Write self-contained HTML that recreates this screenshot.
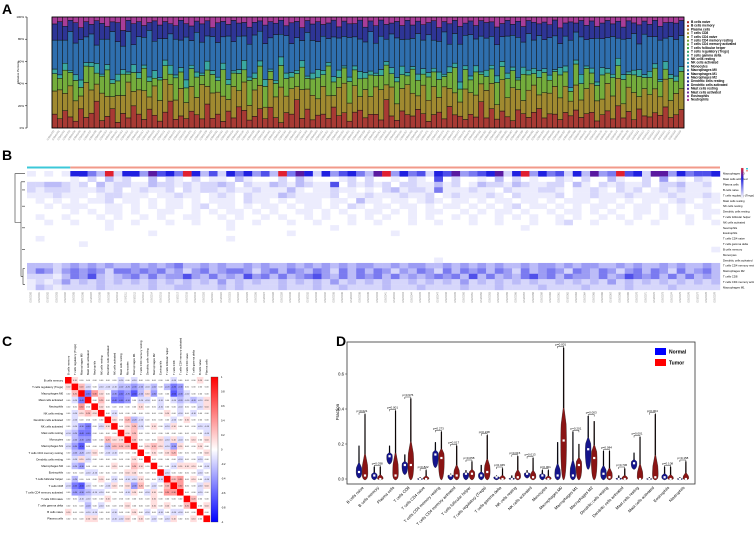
<!DOCTYPE html>
<html><head><meta charset="utf-8"><style>
html,body{margin:0;padding:0;background:#fff;}
svg{display:block;font-family:"Liberation Sans",sans-serif;}
</style></head><body>
<svg id="fig" width="754" height="537" viewBox="0 0 754 537">
<text x="2" y="14" font-size="14" font-weight="bold">A</text>
<text x="2" y="160" font-size="14" font-weight="bold">B</text>
<text x="2" y="346" font-size="14" font-weight="bold">C</text>
<text x="336" y="346" font-size="14" font-weight="bold">D</text>
<g id="pA"></g>
<g id="pB"></g>
<g id="pC"></g>
<g id="pD"></g>
</svg>
<script>
const NS="http://www.w3.org/2000/svg";
function mk(parent,tag,attrs,txt){const e=document.createElementNS(NS,tag);for(const k in attrs)e.setAttribute(k,attrs[k]);if(txt!==undefined)e.textContent=txt;parent.appendChild(e);return e;}
const cellTypes=["B cells naive","B cells memory","Plasma cells","T cells CD8","T cells CD4 naive","T cells CD4 memory resting","T cells CD4 memory activated","T cells follicular helper","T cells regulatory (Tregs)","T cells gamma delta","NK cells resting","NK cells activated","Monocytes","Macrophages M0","Macrophages M1","Macrophages M2","Dendritic cells resting","Dendritic cells activated","Mast cells resting","Mast cells activated","Eosinophils","Neutrophils"];

/* ---------- Panel A data ---------- */
const aRed="12 08 15 10 06 18 09 14 22 07 11 16 05 13 09 20 12 08 17 10 06 14 24 09 11 07 15 13 08 19 10 12 06 16 09 21 13 07 11 15 08 18 10 05 14 12 26 09 16 07 11 13 08 20 10 15 06 12 17 09 14 11 08 23 10 07 16 12 09 18 13 06 11 15 08 19 12 10 07 14 09 22 11 16 08 13 10 06 17 12 09 15 20 08 11 14 07 13 10 18 09 12 16 06 11 15 08 21 10 13 07 17 12 09 14 11 19 08 13 16".split(" ").map(Number);
const aOlive="20 25 15 28 18 12 30 22 14 26 19 10 24 16 32 13 21 27 11 23 18 29 15 20 25 12 22 17 30 14 26 19 23 11 28 16 21 13 25 18 10 24 20 33 15 22 12 27 17 21 14 26 19 11 23 29 16 20 13 25 18 22 30 12 24 15 21 27 17 13 26 19 23 14 28 16 20 12 25 22 18 15 30 21 13 24 17 27 19 11 23 26 14 20 16 28 18 22 12 25 15 21 29 17 13 24 20 26 14 19 23 11 27 18 22 16 25 13 21 18".split(" ").map(Number);
const aGreen="15 10 20 12 18 8 14 22 9 16 25 11 13 19 7 17 10 21 14 6 18 12 9 23 15 11 16 20 8 13 19 10 24 14 12 17 9 22 11 15 18 7 13 20 16 10 12 21 9 14 18 11 25 13 8 15 19 12 17 10 22 9 14 16 11 20 13 8 18 15 10 21 12 17 9 14 23 11 16 13 19 8 15 12 20 10 17 14 9 22 13 11 18 16 10 15 19 12 8 21 14 17 11 13 20 9 16 12 24 10 15 18 11 14 19 13 9 17 12 15".split(" ").map(Number);
const aTeal="4 3 6 2 5 7 3 4 8 2 5 3 6 4 2 7 5 3 4 6 2 5 8 3 4 6 3 5 2 7 4 3 6 5 2 4 7 3 5 4 6 2 3 8 5 4 3 6 2 5 7 4 3 5 6 2 4 3 7 5 4 2 6 3 5 4 8 3 2 6 5 4 3 7 2 5 4 6 3 4 5 2 7 3 6 4 5 3 2 6 4 5 7 3 4 2 6 5 3 4 8 2 5 3 6 4 3 7 5 2 4 6 3 5 4 2 7 3 5 4".split(" ").map(Number);
const aBlue="25 30 20 35 28 38 22 27 15 33 24 40 29 21 36 18 31 26 42 23 34 19 28 37 25 32 22 39 27 20 35 30 24 41 26 33 18 29 36 23 31 27 44 21 34 25 30 19 37 28 24 32 20 38 26 29 35 22 31 27 40 24 33 18 28 36 25 30 21 39 26 34 23 29 37 20 27 32 25 42 22 30 35 24 28 19 33 26 38 21 31 27 36 23 29 34 20 25 39 28 32 22 30 37 24 27 33 19 35 26 31 23 40 28 25 34 21 29 36 27".split(" ").map(Number);
const aNavy="14 16 12 10 18 11 13 9 20 15 12 8 17 14 10 19 13 11 7 16 12 15 9 14 18 10 13 11 16 12 9 17 14 11 19 13 10 15 12 8 16 14 11 13 9 18 15 12 10 14 17 11 13 16 9 15 12 10 18 13 11 14 16 12 9 15 13 17 10 12 14 11 16 13 9 18 12 15 10 14 11 13 17 12 16 10 14 9 15 13 11 17 12 14 10 16 13 11 15 9 14 12 18 10 13 15 11 16 12 14 9 17 13 10 15 12 14 11 16 13".split(" ").map(Number);
const aMagenta="6 4 8 3 5 10 4 7 3 6 9 4 5 12 3 6 4 8 5 3 7 4 6 9 3 5 8 4 6 3 11 5 4 7 3 6 4 9 5 3 7 4 6 3 8 5 4 10 3 6 4 7 5 3 8 4 6 5 3 9 4 7 3 6 5 4 8 3 6 4 7 5 3 10 4 6 3 8 5 4 7 3 6 4 9 5 3 6 4 8 3 5 7 4 6 3 9 5 4 6 3 7 4 8 5 3 6 4 10 3 5 7 4 6 3 8 5 4 6 3".split(" ").map(Number);
const aTicks=["0%","20%","40%","60%","80%","100%"];

/* ---------- Panel B data (rows top->bottom, digit = intensity 0..9) ---------- */
const bRowLabels=["Macrophages M0","Mast cells activated","Plasma cells","B cells naive","T cells regulatory (Tregs)","Mast cells resting","NK cells resting","Dendritic cells resting","T cells follicular helper","NK cells activated","Neutrophils","Eosinophils","T cells CD4 naive","T cells gamma delta","B cells memory","Monocytes","Dendritic cells activated","T cells CD4 memory resting","Macrophages M2","T cells CD8","T cells CD4 memory activated","Macrophages M1"];
const bRows=[
"10101775392774867597362757463958727467538947562768456782794756273845967288475667",
"00000102031200302102011031000203100012020010210602001030201002102003100204010210",
"22332120312211322121223202113213211602121202211312013221321122031021211202231120",
"21222111212012112021221211211131011211010231221511121102111221011210212012121110",
"11121110122111011211012102111321111201121112112012111210211112011211121111211121",
"01010101120110101101011102110101110110311011012101101011011010111011010110121011",
"00101110011010101101201101011010110102101101101011010101201101010110101101010110",
"00000101011010011001010110101001101010011010101100101011010010110101001101010011",
"01001000101001010011001010010100101001010100101001010010101001010010101001001010",
"00100100010010001001000100100010010001001000100100010010001001200100010010001001",
"00000000010000000000000100000000000100000000000000000000010000000000000000000000",
"00000000000000100000000000000010000000000010000000000000000000000000000000000000",
"01000000000000000000000100000000000000000000000000000000000000000000000000000000",
"00000010000000000000000000000000000000000000000000000000000000000000000000000000",
"00000000000000000000000000000000000000000000000000000000000000000000000000000001",
"00000000000000000000000000000000000000000000000000000000000000000000000000000000",
"00000000000000000000000000000000000000000000000100000000000000000000000000000000",
"33323434343343434533434334343343434343443343443343434343343443434433434334343343",
"35424545425545453424534554245354354253535424354253545354253454254354245354253453",
"22213546323453534464353436453534564353545353434545363534356453544353465453535343",
"12124232323232323232324232322323232423232322323232423232323223232324232323232323",
"13212222322222322332223232222322232232222322232222322232222322223222232222322222"];

/* ---------- Panel C data (lower triangle codes: '0'=-0.5 ... '5'=0 ... '9'=0.4) ---------- */
const cLabels=["B cells memory","T cells regulatory (Tregs)","Macrophages M0","Mast cells activated","Neutrophils","NK cells resting","Dendritic cells activated","NK cells activated","Mast cells resting","Monocytes","Macrophages M1","T cells CD4 memory resting","Dendritic cells resting","Macrophages M2","Eosinophils","T cells follicular helper","T cells CD8","T cells CD4 memory activated","T cells CD4 naive","T cells gamma delta","B cells naive","Plasma cells"];
const cLower=["","6","57","541","5585","54676","545555","5421546","43115555","532255766","4205553777","53346544555","546455555565","5325555655765","55544555566555","535556545446554","4104554656275457","52234455546546588","554455655555565555","5553545556555656557","65544554556545454455","555665544656545465565"];
const cTicks=["1","0.8","0.6","0.4","0.2","0","-0.2","-0.4","-0.6","-0.8","-1"];

/* ---------- Panel D data ---------- */
const dNormMed=[0.04,0.02,0.13,0.08,0.00,0.14,0.02,0.03,0.02,0.01,0.00,0.03,0.02,0.02,0.02,0.17,0.03,0.00,0.09,0.00,0.01,0.00];
const dNormLo =[0.01,0.00,0.09,0.03,0.00,0.07,0.00,0.00,0.00,0.00,0.00,0.01,0.00,0.00,0.00,0.06,0.00,0.00,0.06,0.00,0.00,0.00];
const dNormHi =[0.19,0.07,0.19,0.14,0.01,0.21,0.03,0.05,0.08,0.02,0.02,0.05,0.05,0.21,0.27,0.36,0.16,0.02,0.15,0.01,0.07,0.01];
const dTumMed =[0.02,0.00,0.02,0.08,0.00,0.12,0.02,0.03,0.04,0.00,0.01,0.01,0.00,0.22,0.08,0.12,0.01,0.00,0.00,0.01,0.00,0.00];
const dTumHi  =[0.37,0.07,0.39,0.46,0.05,0.27,0.19,0.10,0.25,0.06,0.13,0.12,0.05,0.75,0.20,0.33,0.16,0.06,0.24,0.37,0.07,0.10];
const dP=["p=0.021","p=0.038","p=0.001","p=0.976","p=0.822","p=0.273","p=0.017","p=0.058","p=0.248","p=0.045","p=0.015","p=0.013","p=0.001","p=0.001","p=0.201","p=0.003","p=0.084","p=0.736","p=0.001","p=0.004","p=0.108","p=0.158"];
const dTicks=[0,0.2,0.4,0.6];

/* ================= Panel A ================= */
(function(){
  const g=document.getElementById('pA');
  const L=52,R=684,T=17,B=128;
  const layers=[aRed,aOlive,aGreen,aTeal,aBlue,aNavy,aMagenta];
  const cols=["#a83a34","#a08a30","#74ad3c","#3aa9a0","#2f6fae","#2e3596","#a83d98"];
  const n=Math.min(...layers.map(a=>a.length));
  const bw=(R-L)/n;
  const y=v=>B-(B-T)*v;
  mk(g,'line',{x1:27,y1:T,x2:27,y2:B,stroke:'#000','stroke-width':0.6});
  aTicks.forEach((t,i)=>{const yy=y(i/5);
    mk(g,'line',{x1:25,y1:yy,x2:27,y2:yy,stroke:'#000','stroke-width':0.5});
    const tx=mk(g,'text',{x:24,y:yy+1,'font-size':3,'text-anchor':'end'},t);
    
    
  });
  const yt=mk(g,'text',{x:19,y:(T+B)/2,'font-size':3,'text-anchor':'middle',transform:`rotate(-90 19 ${(T+B)/2})`},'Relative Percent');
  
  
  for(let i=0;i<n;i++){
    let tot=0;layers.forEach(a=>tot+=a[i]);
    let acc=0;const x=L+i*bw;
    layers.forEach((a,k)=>{
      const f=a[i]/tot;
      const r=mk(g,'rect',{x:x,y:y(acc+f),width:bw,height:(B-T)*f,fill:cols[k],stroke:'#111','stroke-width':0.5});
      
      
      acc+=f;
    });
    const lb=mk(g,'text',{x:x+bw/2,y:131,'font-size':2.6,fill:'#888','text-anchor':'end',transform:`rotate(-55 ${x+bw/2} 131)`},'GSM'+(1000+i));
    
    
  }
  mk(g,'rect',{x:L,y:T,width:R-L,height:B-T,fill:'none',stroke:'#000','stroke-width':0.8});
  const hues=["#b03030","#b04a30","#a86a30","#a08a30","#8f9a30","#7aa538","#5eaa3c","#44a848","#3aa86a","#36a98a","#3aa9a0","#38a0b0","#3588b0","#2f6fae","#2e5aa8","#2e45a0","#2e3596","#3a309a","#55309c","#70349c","#8c389c","#a83d98"];
  cellTypes.forEach((c,i)=>{
    const yy=23+i*3.7;
    mk(g,'rect',{x:687,y:yy-1.8,width:2,height:2,fill:hues[i]});
    const t=mk(g,'text',{x:691,y:yy,'font-size':3.2,'font-weight':'bold'},c);
    
    
  });
})();

/* ================= Panel B ================= */
(function(){
  const g=document.getElementById('pB');
  const L=27,R=720,T=171,B=290,NC=80;
  const nr=bRows.length,rh=(B-T)/nr,cw=(R-L)/NC;
  const pal=["#ffffff","#ececfd","#d6d6fb","#bcbcf8","#9c9cf4","#7a7af0","#5050ea","#2020e0","#5a1aa0","#e02030"];
  mk(g,'rect',{x:L,y:166.5,width:cw*5,height:2,fill:'#3cc8d8'});
  mk(g,'rect',{x:L+cw*5,y:166.5,width:R-L-cw*5,height:2,fill:'#f29a8a'});
  bRows.forEach((s,r)=>{
    for(let c=0;c<NC;c++){
      const d=+(s[c]||0);
      if(d===0)continue;
      const e=mk(g,'rect',{x:L+c*cw,y:T+r*rh,width:cw+0.2,height:rh+0.2,fill:pal[d]});
      
      
    }
    const t=mk(g,'text',{x:723,y:T+r*rh+rh/2+1,'font-size':2.8},bRowLabels[r]);
    
    
  });
  for(let c=0;c<NC;c++){
    const x=L+c*cw+cw/2;
    const t=mk(g,'text',{x:x,y:292,'font-size':2.4,fill:'#888','text-anchor':'end',transform:`rotate(-90 ${x} 292)`},'GSM'+(2000+c));
    
    
  }
  // dendrogram
  const ry=i=>T+i*rh+rh/2;
  const d=[[15,ry(0),ry(10.5)],[25,ry(0),ry(0)],[22,ry(1),ry(16)],[24,ry(17),ry(21)],[18,ry(8),ry(19)]];
  mk(g,'path',{d:`M25 ${ry(0)}H15V${ry(9)}H21 M21 ${ry(1.5)}V${ry(19)} M21 ${ry(1.5)}H25 M21 ${ry(19)}H23 M23 ${ry(17.5)}V${ry(20.5)} M23 ${ry(17.5)}H25 M23 ${ry(20.5)}H25 M22 ${ry(3)}H25 M22 ${ry(6)}H25 M22 ${ry(10)}H25 M22 ${ry(14)}H25`,fill:'none',stroke:'#333','stroke-width':0.6});
  const defs=mk(g,'defs',{});
  const lg=mk(defs,'linearGradient',{id:'bg',x1:0,y1:0,x2:0,y2:1});
  mk(lg,'stop',{offset:'0','stop-color':'#e02030'});mk(lg,'stop',{offset:'0.35','stop-color':'#2020e0'});mk(lg,'stop',{offset:'1','stop-color':'#ffffff'});
  mk(g,'rect',{x:741,y:168,width:2.5,height:30,fill:'url(#bg)',stroke:'#ccc','stroke-width':0.2});
  mk(g,'rect',{x:746,y:168,width:2,height:1.5,fill:'#3cc8d8'});
  mk(g,'rect',{x:746,y:170,width:2,height:1.5,fill:'#f29a8a'});
})();

/* ================= Panel C ================= */
(function(){
  const g=document.getElementById('pC');
  const L=65,T=377,S=145,n=cLabels.length,cs=S/n;
  const val=(i,j)=>{if(i===j)return 1;const a=Math.max(i,j),b=Math.min(i,j);return (+(cLower[a][b]||5)-5)/10;};
  const col=v=>{const t=Math.min(1,Math.abs(v));const w=Math.round(255*(1-t));return v>=0?`rgb(255,${w},${w})`:`rgb(${w},${w},255)`;};
  for(let i=0;i<n;i++){
    for(let j=0;j<n;j++){
      const v=val(i,j);
      const e=mk(g,'rect',{x:L+j*cs,y:T+i*cs,width:cs+0.1,height:cs+0.1,fill:col(i===j?1:v*1.3)});
      
      
      if(i!==j){mk(g,'text',{x:L+j*cs+cs/2,y:T+i*cs+cs/2+0.8,'font-size':2,'text-anchor':'middle',fill:'#222'},v.toFixed(2));}
    }
    const t=mk(g,'text',{x:L-2,y:T+i*cs+cs/2+1,'font-size':2.8,'text-anchor':'end'},cLabels[i]);
    
    
    const x=L+i*cs+cs/2+1;
    const u=mk(g,'text',{x:x,y:T-2,'font-size':2.8,transform:`rotate(-90 ${x} ${T-2})`},cLabels[i]);
    
    
  }
  const defs=mk(g,'defs',{});
  const lg=mk(defs,'linearGradient',{id:'cg',x1:0,y1:0,x2:0,y2:1});
  mk(lg,'stop',{offset:'0','stop-color':'#ff0000'});mk(lg,'stop',{offset:'0.5','stop-color':'#ffffff'});mk(lg,'stop',{offset:'1','stop-color':'#0000ff'});
  mk(g,'rect',{x:211,y:T,width:7,height:S,fill:'url(#cg)',stroke:'#333','stroke-width':0.3});
  cTicks.forEach((t,i)=>{const yy=T+i*S/10;
    mk(g,'text',{x:221,y:yy+1,'font-size':2.6},t);
  });
})();

/* ================= Panel D ================= */
(function(){
  const g=document.getElementById('pD');
  const L=347,R=695,T=342,B=484;
  const y=v=>479-v*175;
  const cx=i=>362+i*15.28;
  mk(g,'rect',{x:L,y:T,width:R-L,height:B-T,fill:'none',stroke:'#333','stroke-width':0.8});
  dTicks.forEach(t=>{
    mk(g,'line',{x1:L-2,y1:y(t),x2:L,y2:y(t),stroke:'#333','stroke-width':0.5});
    const e=mk(g,'text',{x:L-3,y:y(t)+1.5,'font-size':4.2,'text-anchor':'end'},t.toFixed(1));
    
    
  });
  const ttl=mk(g,'text',{x:339,y:412,'font-size':4.5,'text-anchor':'middle',transform:'rotate(-90 339 412)'},'Fraction');
  
  
  function violin(x,lo,med,hi,fill,name){
    const w=3.2;
    const yb=y(lo),ym=y(med),yh=y(hi);
    const ybody=y(med+(hi-med)*0.35);
    const p=`M${x} ${yb+1} C${x-w} ${yb} ${x-w} ${ym} ${x-w*0.8} ${(ym+ybody)/2} L${x-0.5} ${ybody} L${x-0.4} ${yh} L${x+0.4} ${yh} L${x+0.5} ${ybody} L${x+w*0.8} ${(ym+ybody)/2} C${x+w} ${ym} ${x+w} ${yb} ${x} ${yb+1}Z`;
    const e=mk(g,'path',{d:p,fill:fill,stroke:'#111','stroke-width':0.3});
    
    
    mk(g,'line',{x1:x,y1:ybody,x2:x,y2:yh,stroke:'#000','stroke-width':0.9});
    mk(g,'rect',{x:x-1.1,y:ym-1.1,width:2.2,height:2.2,fill:'#fff'});
  }
  for(let i=0;i<cellTypes.length;i++){
    const c=cx(i),nx=c-3,tx=c+3;
    violin(nx,dNormLo[i],dNormMed[i],dNormHi[i],'#14148c','violin-normal');
    violin(tx,0,dTumMed[i],dTumHi[i],'#8a1414','violin-tumor');
    const top=y(Math.max(dNormHi[i],dTumHi[i]))-1.5;
    mk(g,'path',{d:`M${nx} ${top+2}V${top}H${tx}V${top+2}`,fill:'none',stroke:'#000','stroke-width':0.4});
    const pt=mk(g,'text',{x:c,y:top-1,'font-size':3,'text-anchor':'middle'},dP[i]);
    
    
    const lx=c+2;
    const lb=mk(g,'text',{x:lx,y:488,'font-size':4,'text-anchor':'end',transform:`rotate(-45 ${lx} 488)`},cellTypes[i]);
    
    
  }
  const l1=mk(g,'rect',{x:655,y:348,width:11,height:7,fill:'#0000ff'});
  
  
  const l2=mk(g,'rect',{x:655,y:359,width:11,height:7,fill:'#ff0000'});
  
  
  const t1=mk(g,'text',{x:669,y:353.5,'font-size':5,'font-weight':'bold'},'Normal');
  
  
  const t2=mk(g,'text',{x:669,y:364.5,'font-size':5,'font-weight':'bold'},'Tumor');
  
  
})();
</script>
</body></html>
